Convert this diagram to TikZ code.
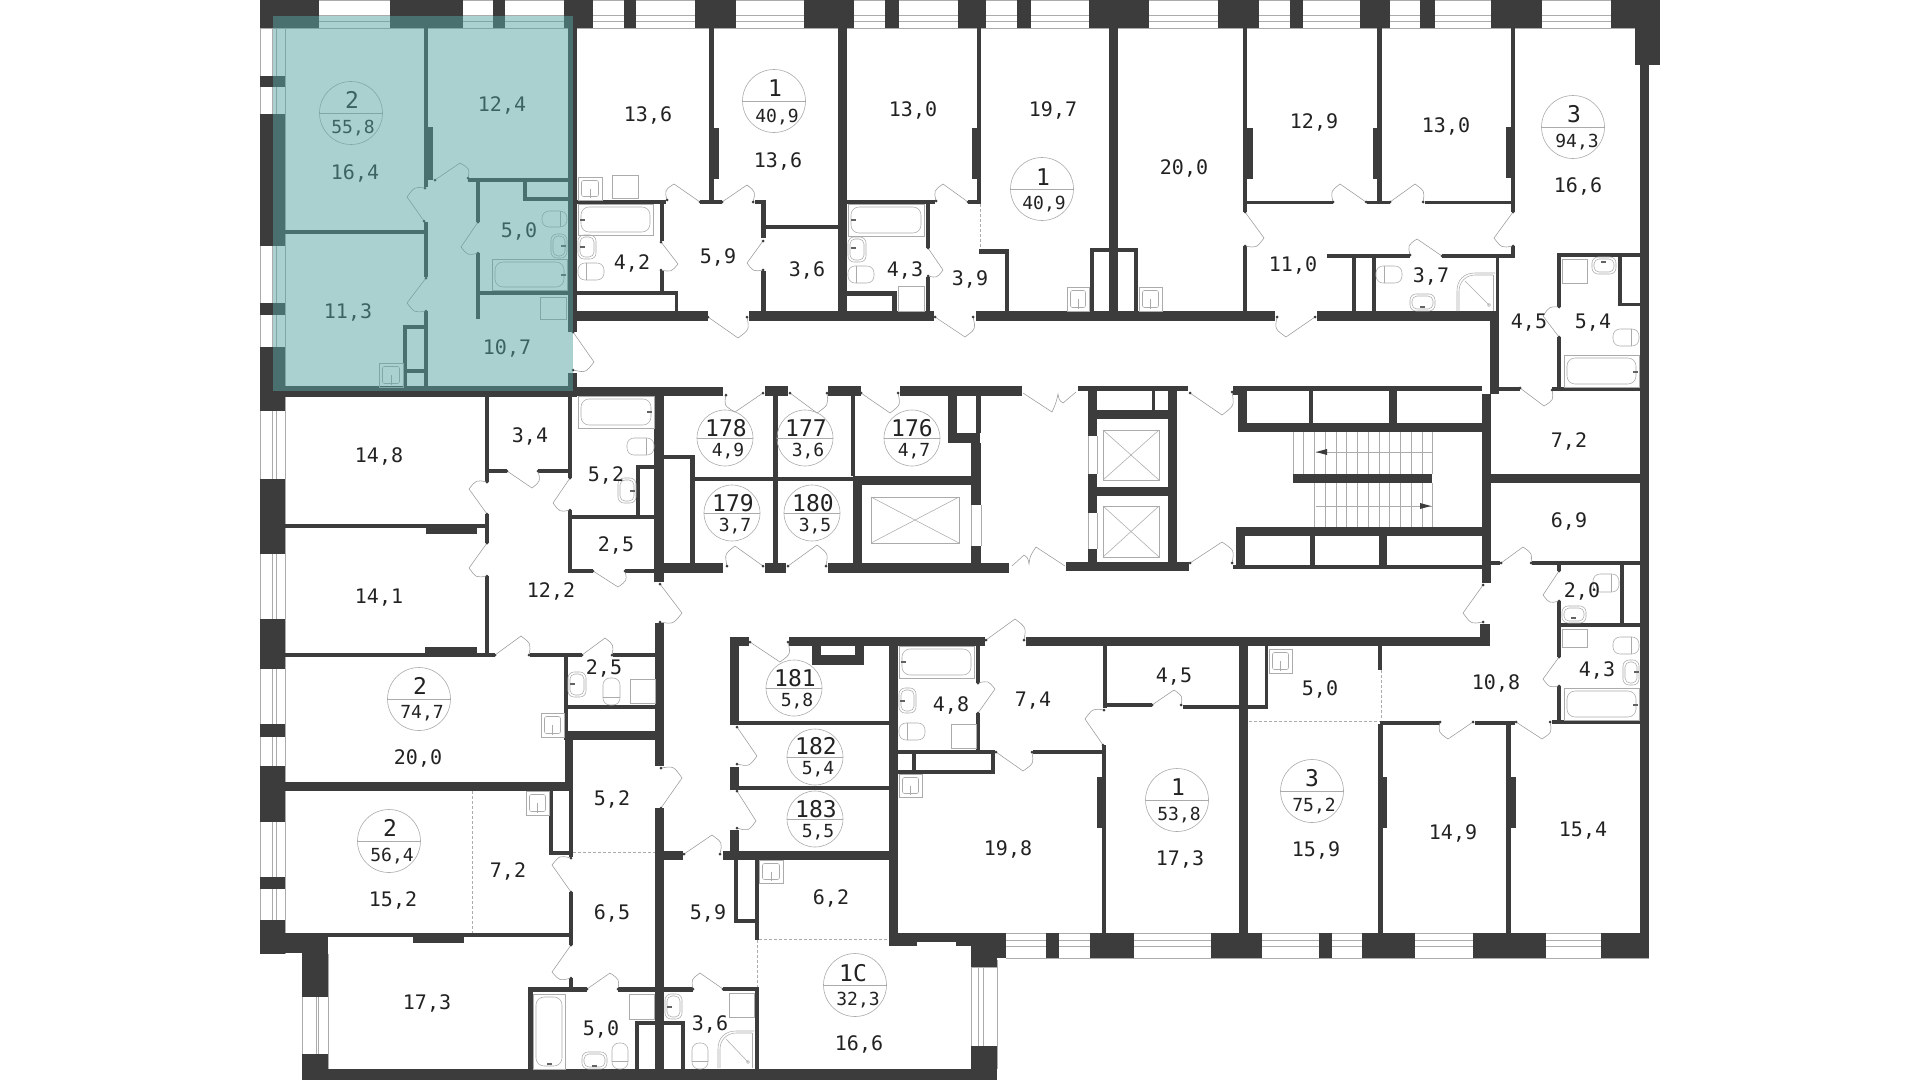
\documentclass[tikz,border=0pt]{standalone}
\usepackage{fontspec}
\setmainfont{DejaVu Sans Mono}
\definecolor{wallc}{HTML}{3C3C3C}
\definecolor{txtc}{HTML}{222222}
\definecolor{linec}{HTML}{ABABAB}
\definecolor{tealc}{RGB}{89,163,163}
\tikzset{
  wallf/.style={fill=wallc,draw=none},
  fix/.style={draw=linec,line width=0.55pt,fill=none},
  doorl/.style={draw=linec!90!black,line width=0.55pt},
  dashl/.style={draw=linec,line width=0.6pt,dash pattern=on 3pt off 2pt},
  winl/.style={draw=linec,line width=0.8pt},
  rlabel/.style={text=txtc,font=\fontsize{20}{20}\selectfont,inner sep=0pt},
  alabel/.style={text=txtc,font=\fontsize{18}{18}\selectfont,inner sep=0pt},
  nlabel/.style={text=txtc,font=\fontsize{23}{23}\selectfont,inner sep=0pt},
}
\newcounter{lblc}
\newcommand\rl[3]{\stepcounter{lblc}\node[rlabel] (room\arabic{lblc}) at (#1,#2+1) {#3};}
\newcommand\badge[9]{\stepcounter{lblc}%
  \node[circle,draw=linec,line width=0.6pt,minimum size=#3*2pt,inner sep=0pt] (badge\arabic{lblc}) at (#1,#2) {};
  \draw[fix] (badge\arabic{lblc}.west) -- (badge\arabic{lblc}.east);
  \node[nlabel] (num\arabic{lblc}) at (#4,#5+1) {#6};
  \node[alabel] (area\arabic{lblc}) at (#7,#8+1) {#9};}
\newcommand\dr[6]{%
  \pgfmathsetmacro\cxx{#1+0.60*(#3-#1+#5-#1)}%
  \pgfmathsetmacro\cyy{#2+0.60*(#4-#2+#6-#2)}%
  \draw[doorl] (#1,#2) -- (#3,#4) .. controls (\cxx,\cyy) .. (#5,#6);
  \fill[wallc] (#1,#2) circle (1.5);
  \fill[wallc] (#5,#6) circle (1.5);}
\newcommand\bathr[4]{%
  \draw[fix] (#1,#2) rectangle (#3,#4);
  \draw[fix,rounded corners=8pt] (#1+3,#2+3) rectangle (#3-3,#4-3);}
\newcommand\wash[4]{\draw[fix] (#1,#2) rectangle (#3,#4);}
\newcommand\ksink[4]{%
  \draw[fix] (#1,#2) rectangle (#3,#4);
  \draw[fix,rounded corners=2pt] (#1+3.5,#2+3.5) rectangle (#3-3.5,#4-3.5);
  \draw[fix] ({(#1+#3)/2},{(#2+#4)/2}) -- ({(#1+#3)/2},{#4-2});}
\newcommand\sinkr[4]{%
  \draw[fix,rounded corners=6pt] (#1,#2) rectangle (#3,#4);
  \draw[fix,rounded corners=5pt] (#1+2,#2+2) rectangle (#3-2,#4-2);}
\newcommand\toilh[5]{%
  \draw[fix,rounded corners=7pt] (#1,#2) rectangle (#3,#4);
  \draw[fix] (#5,#2) -- (#5,#4);}
\newcommand\toilv[5]{%
  \draw[fix,rounded corners=7pt] (#1,#2) rectangle (#3,#4);
  \draw[fix] (#1,#5) -- (#3,#5);}
\newcommand\shower[4]{%
  \draw[fix] (#3,#2) -- ({#1+18},#2) .. controls ({#1+7},#2) and (#1,{#2+7}) .. (#1,{#2+18}) -- (#1,#4);
  \draw[fix] (#3-2,#2+2) -- ({#1+18},#2+2) .. controls ({#1+9},#2+2) and (#1+2,{#2+9}) .. (#1+2,{#2+18}) -- (#1+2,#4);
  \draw[fix] (#1+8,#2+8) -- (#3-6,#4-6);
  \draw[fix] (#3-6,#4-6) circle (1.5);
  \draw[fix] (#3-2,#2+2) -- (#3-2,#4);}
\newcommand\shaft[4]{%
  \draw[fix] (#1,#2) rectangle (#3,#4);
  \draw[fix] (#1,#2) -- (#3,#4);
  \draw[fix] (#1,#4) -- (#3,#2);}
\begin{document}
\begin{tikzpicture}[x=1pt,y=-1pt]
\useasboundingbox (0,0) rectangle (1920,1080);
\fill[white] (0,0) rectangle (1920,1080);
% window lines
\foreach \y in {0.5,15,21,28} \draw[winl] (260,\y) -- (1660,\y);
\foreach \x in {260.5,272,276,285} \draw[winl] (\x,0) -- (\x,954);
\foreach \y in {933,940,946,958} \draw[winl] (1006,\y) -- (1649,\y);
\foreach \x in {302.5,316,318,328} \draw[winl] (\x,954) -- (\x,1069);
\foreach \x in {971,978,983,997} \draw[winl] (\x,960) -- (\x,1069);
\foreach \y in {967,1046} \draw[winl] (971,\y) -- (997,\y);
\draw[winl] (971,505) -- (971,546);\draw[winl] (981,505) -- (981,546);
\draw[winl] (1088,436) -- (1088,474);\draw[winl] (1097,436) -- (1097,474);
\draw[winl] (1088,513) -- (1088,549);\draw[winl] (1097,513) -- (1097,549);
% outer walls
\foreach \a/\b/\c/\d in {
260/0/319/28,390/0/463/28,493/0/505/28,564/0/593/28,624/0/636/28,695/0/736/28,804/0/854/28,885/0/899/28,958/0/986/28,1017/0/1031/28,1089/0/1149/28,1218/0/1259/28,1290/0/1303/28,1360/0/1390/28,1420/0/1435/28,1491/0/1542/28,1611/0/1660/28,1635/28/1660/65,1640/65/1649/958,
260/76/285/87,260/114/285/246,260/303/285/315,260/347/285/411,260/479/285/554,260/619/285/669,260/724/285/737,260/766/285/822,260/877/285/889,260/920/285/954,260/933/328/953,302/953/328/997,302/1054/328/1080,302/1069/997/1080,
889/933/917/946,917/933/956/942,956/933/971/946,971/933/1006/958,971/958/997/967,971/1046/997/1080,1046/933/1059/958,1090/933/1134/958,1211/933/1262/958,1319/933/1332/958,1362/933/1415/958,1473/933/1546/958,1601/933/1649/958}
  \fill[wallf] (\a,\b) rectangle (\c,\d);
% interior walls: upper band
\foreach \a/\b/\c/\d in {
568/0/577/332,568/373/577/397,260/386/573/397,
424/28/428/187,424/127/433/180,424/222/428/277,424/311/428/390,285/230/428/234,
468/178/568/182,523/182/527/201,523/197/568/201,476/182/480/222,476/253/480/319,480/291/568/295,
403/325/407/387,403/325/428/329,403/369/428/373,
577/200/666/204,660/204/664/241,660/271/664/291,577/291/678/295,675/295/678/312,577/311/708/321,
709/28/714/200,709/128/719/179,700/200/722/204,
749/311/934/321,838/28/847/311,761/204/766/238,761/271/766/311,755/200/766/204,766/225/838/229,
847/200/935/204,926/204/930/248,926/277/930/311,847/291/897/296,892/296/897/311,
977/28/981/203,972/128/981/179,968/200/981/204,979/249/1009/254,1005/254/1009/311,
976/311/1275/321,1109/28/1118/311,1090/248/1138/252,1090/252/1094/311,1134/252/1138/311,
1243/28/1247/212,1243/128/1253/179,1247/201/1333/204,1377/28/1382/202,1373/128/1382/179,1367/201/1390/204,1425/201/1511/204,1511/28/1515/212,1506/127/1515/178,
1243/246/1247/311,1511/246/1515/258,1442/254/1515/258,1327/254/1410/258,1352/258/1356/311,1372/258/1376/311,1496/258/1499/311,
1317/311/1498/321,1490/311/1499/394,
1557/253/1640/257,1557/253/1561/307,1557/337/1561/387,1618/257/1622/306,1618/303/1640/306,1552/387/1640/391,1497/387/1520/391}
  \fill[wallf] (\a,\b) rectangle (\c,\d);
% middle
\foreach \a/\b/\c/\d in {
573/387/723/396,485/396/489/482,489/469/507/473,538/469/568/473,568/396/572/478,
485/514/489/543,285/524/485/528,426/528/477/534,485/576/489/655,285/653/495/657,425/647/477/653,
530/653/582/657,613/653/655/657,564/657/568/740,568/705/655/709,564/731/664/740,
654/396/664/582,655/623/664/766,655/808/664/1069,
568/515/655/519,568/510/572/573,572/569/593/573,625/569/655/573,636/465/640/515,636/465/654/469,
664/455/695/459,690/455/695/563,664/563/723/573,695/477/853/481,
765/386/788/396,828/386/861/396,900/386/1022/396,773/396/778/563,853/476/980/485,851/396/855/476,853/481/862/563,
948/396/957/443,957/433/980/443,976/396/981/433,971/443/981/505,971/546/981/563,828/563/1009/573,765/563/786/573,
1078/386/1188/391,1088/391/1097/436,1088/474/1097/513,1088/549/1097/562,1097/410/1168/419,1097/487/1168/496,1168/386/1177/562,1152/391/1155/410,1066/562/1189/571,
1233/386/1247/395,1238/395/1247/432,1247/386/1482/391,1238/423/1482/432,1309/391/1313/423,1389/391/1397/423,
1293/474/1432/483,1236/527/1482/536,1236/536/1245/569,1233/565/1482/569,1310/536/1315/565,1379/536/1387/565,
1482/394/1491/583,1491/474/1640/483,1491/561/1500/565,1532/561/1640/565,
1557/565/1561/571,1557/601/1561/657,1561/623/1640/627,1620/565/1624/623,1557/686/1561/720,1552/720/1640/724,
730/637/739/725,730/637/749/646,789/637/985/646,812/646/821/665,821/655/864/665,855/646/864/655,
739/721/889/725,889/646/898/933,976/646/980/683,976/713/980/750,
1026/637/1490/646,1480/624/1490/637,1103/646/1107/708,1107/703/1152/707,1183/705/1239/709,1239/646/1248/933,1265/646/1268/709,1248/705/1268/709,
1102/745/1106/933,1097/777/1102/828,1033/750/1102/754,898/750/995/754,991/754/995/773,898/770/995/774,912/754/916/770,
730/767/739/790,739/786/889/790,730/830/739/852,723/851/889/860,734/860/738/923,734/919/759/923,755/860/759/940,723/987/758/991,755/987/759/1069,
1380/721/1440/725,1378/646/1382/670,1475/721/1515/725,1506/724/1511/933,1511/777/1516/828,1378/724/1382.7/933,1382/777/1387/828,
285/782/565/791,565/740/573/791,569/790/573/857,549/851/573/855,549/791/553/855,569/892/573/945,285/933/573/937,413/937/464/943,
569/978/573/988,528/987/587/992,528/992/533/1069,618/987/655/992,664/851/683/860,723/851/735/860,
635/1021/685/1025,635/1025/639/1069,681/1025/685/1069,664/987/693/992}
  \fill[wallf] (\a,\b) rectangle (\c,\d);
% doors
\foreach \a/\b/\c/\d/\e/\f in {
435/180/460/163/468/178,424/221/407/197/425/188,478/222/461/247/478/253,426/278/407/303/426/311,573/332/594/362/573/370,
661/242/678/264/661/270,700/202/674/184/667/200,708/317/738/338/747/317,722/202/747/185/753/202,763/241/747/263/763/270,
928/248/943/270/928/276,968/202/943/184/936/201,935/317/965/337/973/317,1366/202/1340/184/1333/202,1390/202/1415/184/1423/202,
1245/212/1264/238/1245/246,1513/212/1494/238/1513/246,1442/256/1417/239/1410/255,1315/317/1286/337/1277/317,1559/337/1543/316/1559/307,1520/388/1544/406/1552/390,
507/471/532/488/538/471,487/514/469/489/487/482,487/543/469/568/487/576,495/655/521/636/529/655,582/655/605/638/612/655,593/571/618/587/625/571,570/478/553/503/570/510,660/584/682/613/660/622,
763/393/735/412/726/395,790/393/817/413/827/393,861/393/890/413/898/393,763/566/735/546/727/566,788/566/817/545/826/566,1190/393/1222/415/1232/392,1190/563/1222/542/1232/563,
750/642/780/662/788/642,978/713/995/689/978/683,986/640/1015/619/1024/640,1483/585/1463/613/1483/622,1152/705/1174/690/1181/705,1103/745/1085/719/1104/710,996/752/1023/771/1032/752,
1501/563/1523/547/1531/563,1559/571/1543/595/1559/601,1559/657/1543/679/1559/686,1473/722/1448/739/1440/722,1516/722/1542/739/1550/722,
737/727/757/756/737/764,737/791/756/821/737/828,571/892/552/865/571/858,571/945/552/972/571/978,587/989/610/973/618/989,684/854/712/835/720/854,661/808/682/778/661/768,723/989/700/973/693/989}
  {\dr{\a}{\b}{\c}{\d}{\e}{\f}}
% double corridor doors
\draw[doorl] (1023,393) -- (1052,412) .. controls (1056,403) .. (1058,394) .. controls (1059,400) .. (1063,403) -- (1076,392);
\draw[doorl] (1012,566) -- (1024,555) .. controls (1028,558) .. (1029,564) .. controls (1030,556) .. (1036,547) -- (1065,566);
% dashed partitions
\draw[dashl] (980,204) -- (980,249);
\draw[dashl] (1381,670) -- (1381,720);
\draw[dashl] (1249,721) -- (1380,721);
\draw[dashl] (472,791) -- (472,933);
\draw[dashl] (573,852) -- (655,852);
\draw[dashl] (759,939) -- (889,939);
\draw[dashl] (757,940) -- (757,987);
% fixtures
\toilh{542}{211}{567}{227}{560}
\sinkr{551}{234}{567}{258}
\bathr{492}{259}{567}{290}
\wash{540}{297}{566}{319}
\ksink{379}{363}{403}{387}
\ksink{578}{177}{602}{200}
\wash{612}{175}{638}{198}
\bathr{578}{204}{653}{235}
\sinkr{578}{235}{596}{259}
\toilh{578}{263}{604}{280}{586}
\bathr{848}{204}{924}{236}
\sinkr{848}{237}{866}{262}
\toilh{848}{266}{874}{283}{856}
\wash{898}{286}{924}{311}
\ksink{1067}{287}{1089}{311}
\ksink{1139}{287}{1162}{311}
\toilh{1376}{266}{1402}{283}{1384}
\sinkr{1410}{294}{1435}{311}
\shower{1457}{273}{1495}{311}
\wash{1562}{259}{1587}{283}
\sinkr{1592}{257}{1616}{274}
\toilh{1613}{329}{1639}{346}{1631}
\bathr{1564}{355}{1639}{387}
\bathr{578}{396}{654}{428}
\toilh{627}{438}{654}{455}{646}
\sinkr{618}{478}{636}{503}
\sinkr{568}{672}{586}{697}
\toilv{603}{678}{620}{705}{697}
\wash{630}{679}{655}{703}
\ksink{541}{713}{564}{737}
\shaft{871}{497}{959}{543}
\shaft{1103}{430}{1159}{480}
\shaft{1103}{506}{1159}{557}
\bathr{899}{646}{974}{678}
\sinkr{899}{688}{916}{713}
\toilh{899}{723}{925}{740}{907}
\wash{951}{724}{976}{748}
\ksink{899}{774}{922}{797}
\ksink{759}{860}{783}{883}
\wash{729}{993}{754}{1017}
\shower{718}{1031}{754}{1068}
\ksink{526}{791}{549}{815}
\bathr{533}{994}{565}{1069}
\wash{629}{994}{654}{1019}
\sinkr{582}{1052}{607}{1069}
\toilv{612}{1043}{628}{1069}{1061}
\sinkr{665}{994}{682}{1019}
\toilv{692}{1043}{708}{1069}{1061}
\toilh{1593}{574}{1619}{592}{1611}
\sinkr{1562}{606}{1586}{623}
\wash{1562}{629}{1587}{647}
\toilh{1613}{637}{1639}{654}{1631}
\sinkr{1623}{660}{1639}{685}
\bathr{1564}{688}{1639}{720}
\ksink{1269}{649}{1292}{673}
% taps
\foreach \x/\y in {582/220,563/275,582/247,563/246,853/220,853/248,1635/372,649/412,632/491,572/684,903/662,902/701,1635/705,1636/672,549/1064,594/1066,669/1007,1603/262,1422/307,1573/618}
  \fill[wallc!80!white] (\x-2.5,\y-1.3) rectangle (\x+2.5,\y+1.3);
% stairs
\foreach \k in {0,...,13} \draw[fix] ({1293+10.75*\k},432) -- ({1293+10.75*\k},474);
\foreach \k in {2,...,13} \draw[fix] ({1293+10.75*\k},483) -- ({1293+10.75*\k},527);
\draw[fix] (1316,452) -- (1432,452);
\draw[fix] (1316,506) -- (1432,506);
\fill[wallc] (1316,452) -- (1327,449) -- (1327,455) -- cycle;
\fill[wallc] (1431,506) -- (1420,503) -- (1420,509) -- cycle;
% room labels
\rl{502}{104}{12,4}\rl{355}{172}{16,4}\rl{519}{230}{5,0}\rl{348}{311}{11,3}\rl{507}{347}{10,7}
\rl{648}{114}{13,6}\rl{632}{262}{4,2}\rl{718}{256}{5,9}\rl{778}{160}{13,6}\rl{913}{109}{13,0}\rl{1053}{109}{19,7}\rl{1184}{167}{20,0}
\rl{807}{269}{3,6}\rl{905}{269}{4,3}\rl{970}{278}{3,9}\rl{1314}{121}{12,9}\rl{1446}{125}{13,0}\rl{1578}{185}{16,6}\rl{1293}{264}{11,0}\rl{1431}{275}{3,7}\rl{1529}{322}{4,5}\rl{1593}{322}{5,4}
\rl{379}{455}{14,8}\rl{530}{435}{3,4}\rl{606}{474}{5,2}\rl{616}{544}{2,5}\rl{379}{597}{14,1}\rl{551}{590}{12,2}\rl{604}{667}{2,5}
\rl{951}{704}{4,8}\rl{1033}{700}{7,4}\rl{1174}{676}{4,5}\rl{1569}{440}{7,2}\rl{1569}{520}{6,9}\rl{1582}{590}{2,0}\rl{1597}{669}{4,3}\rl{1496}{682}{10,8}\rl{1320}{688}{5,0}
\rl{418}{757}{20,0}\rl{612}{798}{5,2}\rl{393}{899}{15,2}\rl{508}{870}{7,2}\rl{612}{912}{6,5}\rl{708}{912}{5,9}\rl{427}{1002}{17,3}\rl{601}{1028}{5,0}\rl{710}{1023}{3,6}
\rl{831}{897}{6,2}\rl{1008}{848}{19,8}\rl{1180}{858}{17,3}\rl{859}{1043}{16,6}\rl{1316}{849}{15,9}\rl{1453}{832}{14,9}\rl{1583}{830}{15,4}
% badges
\badge{351}{113}{31.5}{352}{99}{2}{353}{127}{55,8}
\badge{774}{101}{31.5}{775}{87}{1}{777}{116}{40,9}
\badge{1042}{189}{31.5}{1043}{176}{1}{1044}{203}{40,9}
\badge{1573}{127}{31.5}{1574}{113}{3}{1577}{141}{94,3}
\badge{419}{699}{31.5}{420}{685}{2}{422}{712}{74,7}
\badge{389}{841}{31.5}{390}{827}{2}{392}{855}{56,4}
\badge{1177}{800}{31.5}{1178}{786}{1}{1179}{814}{53,8}
\badge{855}{985}{31.5}{853}{972}{1C}{858}{999}{32,3}
\badge{1312}{791}{31.5}{1312}{777}{3}{1314}{805}{75,2}
\badge{725}{438}{28}{726}{427}{178}{728}{450}{4,9}
\badge{805}{438}{28}{806}{427}{177}{808}{450}{3,6}
\badge{912}{438}{28}{912}{427}{176}{914}{450}{4,7}
\badge{732}{513}{28}{733}{502}{179}{735}{525}{3,7}
\badge{812}{513}{28}{813}{502}{180}{815}{525}{3,5}
\badge{794}{688}{28}{795}{677}{181}{797}{700}{5,8}
\badge{815}{757}{28}{816}{745}{182}{818}{768}{5,4}
\badge{815}{819}{28}{816}{808}{183}{818}{831}{5,5}
% highlighted apartment
\fill[tealc,opacity=0.5] (273,16) rectangle (573,391);
\end{tikzpicture}
\end{document}
